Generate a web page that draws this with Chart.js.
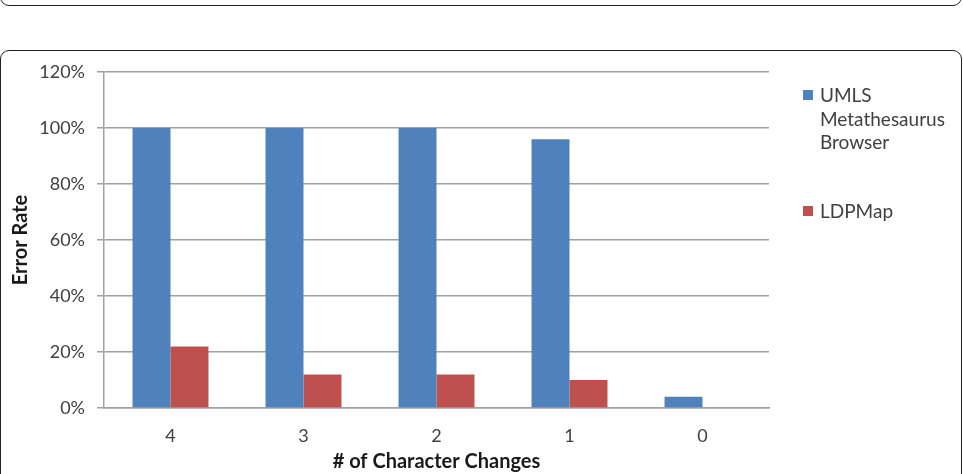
<!DOCTYPE html>
<html>
<head>
<meta charset="utf-8">
<script src="https://cdn.jsdelivr.net/npm/chart.js@4"></script>
<style>
body { margin: 0; width: 963px; height: 474px; overflow: hidden; background: #fff; position: relative; font-family: Lato, sans-serif; }
.frame { position: absolute; border: 1.5px solid #222; border-radius: 9px; box-sizing: border-box; }
#topFrame { left: 0; top: -30px; width: 962px; height: 36px; }
#mainFrame { left: 0; top: 50px; width: 962px; height: 460px; }
#chart { position: absolute; left: 0; top: 0; }
#legend { position: absolute; left: 803px; top: 83px; color: #404040; font-size: 19px; line-height: 23.5px; }
.item { position: relative; padding-left: 17px; margin-bottom: 45px; }
.swatch { position: absolute; left: 0; top: 7px; width: 10px; height: 10px; }
</style>
</head>
<body>
<div class="frame" id="topFrame"></div>
<div class="frame" id="mainFrame"></div>
<canvas id="chart" width="963" height="474"></canvas>
<div id="legend"></div>
<script>
const categories = ['4', '3', '2', '1', '0']
const umlsValues = [100, 100, 100, 96, 4]
const ldpmapValues = [22, 12, 12, 10, 0]
const yTicks = [0, 20, 40, 60, 80, 100, 120]
const seriesNames = [['UMLS', 'Metathesaurus', 'Browser'], ['LDPMap']]
const seriesColors = ['#4F81BD', '#C0504D']

const tickFont = { family: 'Lato, sans-serif', size: 18 }
const titleFont = { family: 'Lato, sans-serif', size: 20, weight: 'bold' }

const chart = new Chart(document.getElementById('chart'), {
    type: 'bar',
    data: {
        labels: categories,
        datasets: [
            { label: seriesNames[0].join(' '), data: umlsValues, backgroundColor: seriesColors[0] },
            { label: seriesNames[1].join(' '), data: ldpmapValues, backgroundColor: seriesColors[1] }
        ]
    },
    options: {
        responsive: false,
        animation: false,
        categoryPercentage: 0.571,
        barPercentage: 1,
        layout: { padding: { left: 0, top: 72, right: 194, bottom: 0 } },
        plugins: { legend: { display: false }, tooltip: { enabled: false } },
        scales: {
            x: {
                grid: { display: false },
                border: { color: '#a0a0a0', width: 1.5 },
                ticks: { color: '#404040', font: tickFont, padding: 9 },
                title: { display: true, text: '# of Character Changes', color: '#1a1a1a', font: titleFont, padding: { top: 4, bottom: 0 } },
                afterFit: (s) => { s.height = 66 }
            },
            y: {
                min: 0,
                max: 120,
                afterBuildTicks: (s) => { s.ticks = yTicks.map((v) => ({ value: v })) },
                grid: { color: '#a0a0a0', lineWidth: 1.5, tickLength: 7 },
                border: { color: '#a0a0a0', width: 1.5 },
                ticks: { color: '#404040', font: tickFont, padding: 12, callback: (v) => v + '%' },
                title: { display: true, text: 'Error Rate', color: '#1a1a1a', font: titleFont, padding: { top: 9, bottom: 0 } },
                afterFit: (s) => { s.width = 104 }
            }
        }
    }
})

const legend = document.getElementById('legend')
legend.innerHTML = chart.data.datasets.map((ds, i) => `
    <div class="item">
        <span class="swatch" style="background:${ds.backgroundColor}"></span>
        ${seriesNames[i].join('<br>')}
    </div>`).join('')
</script>
</body>
</html>
